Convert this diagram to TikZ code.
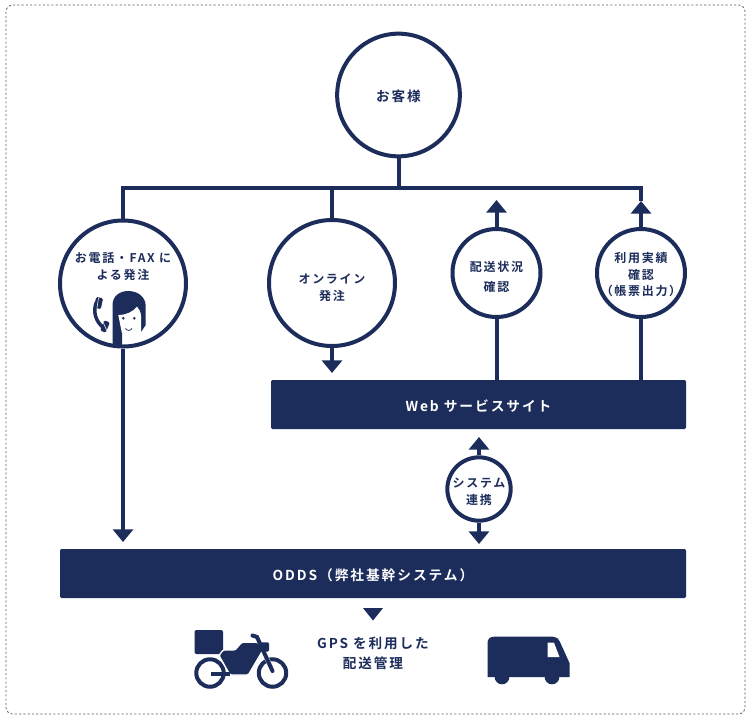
\documentclass[tikz,border=0pt]{standalone}
\usepackage{fontspec}
\usetikzlibrary{arrows.meta}
\newfontfamily\jpfont{Noto Sans CJK JP}[LetterSpace=14,BoldFont={Noto Sans CJK JP Bold}]
\definecolor{navy}{HTML}{1C2C5B}
\tikzset{
  x=0.75pt,y=-0.75pt,
  link/.style={draw=navy,line width=3pt},
  flow/.style={link,-{Triangle[width=15pt,length=9.5pt]}},
  bigc/.style={circle,draw=navy,line width=3pt,fill=white,minimum size=94.5pt,inner sep=0pt},
  midc/.style={circle,draw=navy,line width=3pt,fill=white,minimum size=66pt,inner sep=0pt},
  smallc/.style={circle,draw=navy,line width=3pt,fill=white,minimum size=47.5pt,inner sep=0pt},
  lab/.style={text=navy,align=center,inner sep=0pt,font=\jpfont\bfseries\fontsize{9}{12.6}\selectfont},
  biglab/.style={lab,font=\jpfont\bfseries\fontsize{10.2}{15}\selectfont},
  bar/.style={fill=navy,rounded corners=1pt,inner sep=0pt,text=white,text height=10pt,text depth=0pt,font=\jpfont\bfseries\fontsize{10.3}{12}\selectfont},
}
\begin{document}
\begin{tikzpicture}
\useasboundingbox (0,0) rectangle (750,719);
\fill[white] (0,0) rectangle (750,719);
\draw[gray!75!black,line width=0.6pt,dash pattern=on 1.6pt off 1.6pt,rounded corners=5pt] (6,5) rectangle (745,714);

% bars
\node[bar,minimum width=311.25pt,minimum height=36.75pt] (web) at (478.5,404.5) {Web サービスサイト};
\node[bar,minimum width=469.5pt,minimum height=36.75pt] (odds) at (373,573.5) {ODDS（弊社基幹システム）};

% circles
\node[bigc,minimum size=92pt] (cust) at (398.5,95) {};
\node[bigc] (phone) at (123,283.5) {};
\node[bigc] (online) at (332,283) {};
\node[midc] (status) at (496.5,273) {};
\node[midc] (result) at (641,273) {};
\node[smallc] (sys) at (479,489) {};

% coordinates
\coordinate (jleft) at (123,188);
\coordinate (jright) at (641,188);
\coordinate (tipstatus) at (496.5,200);
\coordinate (tipresult) at (641,201);
\coordinate (tiponline) at (332,373);
\coordinate (tipphone) at (123,542);
\coordinate (tipup) at (479,437);
\coordinate (tipdown) at (479,544);

% connectors
\draw[link] (cust.south) -- (cust.south |- jleft);
\draw[link,line cap=rect] (jleft) -- (jright);
\draw[link] (jleft) -- (phone.north);
\draw[link] (online.north |- jleft) -- (online.north);
\draw[link] (jright) -- (tipresult);
\draw[flow] (online.south) -- (tiponline);
\draw[flow] (phone.south) -- (tipphone);
\draw[flow] (status.north) -- (tipstatus);
\draw[flow] (result.north) -- (tipresult);
\draw[link] (status.south) -- (status.south |- web.north);
\draw[link] (result.south) -- (result.south |- web.north);
\draw[flow] (sys.north) -- (tipup);
\draw[flow] (sys.south) -- (tipdown);
\fill[navy] (363,608) -- (383,608) -- (373,620.5) -- cycle;

% labels
\node[biglab] (tcust) at (398.5,96) {お客様};
\node[lab] (tphone) at (123,266.5) {お電話・FAX に\\よる発注};
\node[lab] (tonline) at (332,288) {オンライン\\発注};
\node[lab] (tstatus) at (496.5,277) {配送状況\\[3pt]確認};
\node[lab] (tresult) at (641,274.5) {利用実績\\確認\\（帳票出力）};
\node[lab] (tsys) at (479,492) {システム\\連携};
\node[biglab] (tgps) at (373,653) {GPS を利用した\\配送管理};

% operator
\begin{scope}
\clip (123,283.5) circle (47.25pt);
\fill[navy] (112.5,350) -- (112.5,305) .. controls (112.5,296) and (120,291) .. (128,291) .. controls (138,291) and (145.7,297) .. (145.7,306) -- (145.7,325) -- (141,332) -- (122,332) -- (122,350) -- cycle;
\fill[white] (118.3,315) .. controls (126,315) and (133,312) .. (137,306.5) .. controls (139,309) and (141,312) .. (141,316) -- (141,333) -- (122,333) -- (121.7,332) -- cycle;
\end{scope}
\fill[navy] (123.3,318.3) circle (1.05pt) (134.3,318.3) circle (1.05pt);
\draw[navy,line width=0.6pt] (125.5,328.5) .. controls (127.5,331) and (130,331) .. (132,328.5);
% telephone
\draw[navy,line width=2.6pt] (96.5,302) .. controls (92.5,311) and (95.5,322) .. (104,328);
\fill[navy,rounded corners=1pt,rotate around={-12:(98.5,303)}] (95,297.5) rectangle (102,308.5);
\fill[navy,rounded corners=1pt,rotate around={-22:(105,326.5)}] (102,321) rectangle (108,332);
\draw[white,line width=0.4pt] (98.5,298) -- (97,308);
\draw[white,line width=0.4pt] (103,322) -- (107,331);

% motorcycle
\fill[navy,rounded corners=1.5pt] (194.5,630) rectangle (223,654);
\draw[navy,line width=3pt] (210,673) circle (10.3pt);
\draw[navy,line width=3pt] (272.5,673) circle (10.3pt);
\fill[navy,draw=white,line width=1pt,rounded corners=1pt] (219,655.5) -- (223,650) -- (235,650) -- (241.7,642.3) -- (258,642.3) -- (263,650) -- (248.3,675) -- (230,675) -- cycle;
\fill[navy] (211,671.7) rectangle (230,676);
\fill[navy,rounded corners=1pt] (258,642.3) rectangle (269,651.7);
\draw[white,line width=3.4pt] (265,655) -- (273,671);
\draw[navy,line width=3pt,line cap=round] (252.5,635.5) -- (257,637) -- (272.5,671);

% truck
\fill[navy] (487.5,677) -- (487.5,643) .. controls (487.5,639) and (490,636.7) .. (494,636.7) -- (553,636.7) .. controls (556,636.7) and (558,638) .. (560,642) -- (569.5,663) -- (569.5,677) -- cycle;
\fill[navy] (502,677) circle (5.5pt) (552,677) circle (5.5pt);
\fill[white] (547.5,642.7) -- (554,642.7) -- (559.5,657) -- (547.5,657) -- cycle;
\end{tikzpicture}
\end{document}
